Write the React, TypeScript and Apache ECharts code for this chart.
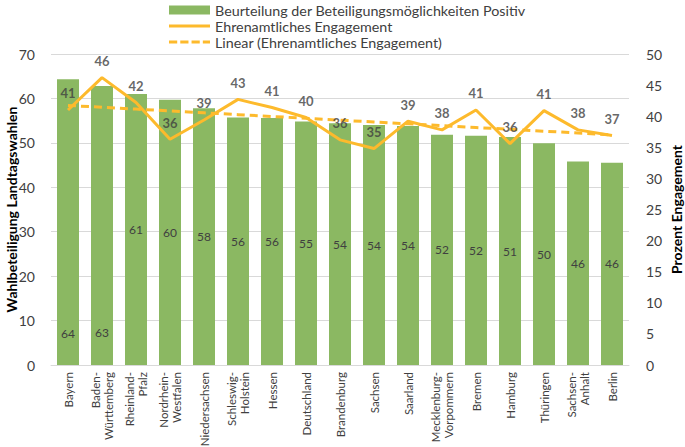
import React, { useEffect, useRef } from "react";
import * as echarts from "echarts";

const categories = [
  "Bayern",
  "Baden-\nWürttemberg",
  "Rheinland-\nPfalz",
  "Nordrhein-\nWestfalen",
  "Niedersachsen",
  "Schleswig-\nHolstein",
  "Hessen",
  "Deutschland",
  "Brandenburg",
  "Sachsen",
  "Saarland",
  "Mecklenburg-\nVorpommern",
  "Bremen",
  "Hamburg",
  "Thüringen",
  "Sachsen-\nAnhalt",
  "Berlin",
];

const beteiligung = [64.3, 62.8, 61.0, 59.7, 57.8, 55.7, 55.6, 54.8, 54.4, 54.0, 53.8, 51.8, 51.6, 51.3, 49.9, 45.8, 45.5];
const engagement = [41.0, 46.2, 42.2, 36.3, 39.4, 42.7, 41.4, 39.8, 36.2, 34.8, 39.2, 37.8, 41.0, 35.6, 40.9, 37.8, 36.9];

const leftTicks = { min: 0, max: 70, interval: 10 };
const rightTicks = { min: 0, max: 50, interval: 5 };

const FONT = "Lato";
const GREEN = "#8BB862";
const GOLD = "#FDBA2C";

function linearTrend(vals: number[]): number[] {
  const n = vals.length;
  let sx = 0, sy = 0, sxx = 0, sxy = 0;
  vals.forEach((y, i) => {
    const x = i + 1;
    sx += x; sy += y; sxx += x * x; sxy += x * y;
  });
  const b = (n * sxy - sx * sy) / (n * sxx - sx * sx);
  const a = (sy - b * sx) / n;
  return vals.map((_, i) => +(a + b * (i + 1)).toFixed(3));
}

export default function App() {
  const ref = useRef<HTMLDivElement>(null);
  useEffect(() => {
    if (!ref.current) return;
    const chart = echarts.init(ref.current, null, { renderer: "svg" });
    const trend = linearTrend(engagement);
    const barData = beteiligung.map((v, i) => {
      if (i === 0) return { value: v, label: { offset: [0, 111] } };
      if (i === 1) return { value: v, label: { offset: [0, 107] } };
      return v;
    });
    chart.setOption({
      animation: false,
      textStyle: { fontFamily: FONT },
      legend: {
        orient: "vertical",
        left: 164,
        top: -2,
        itemWidth: 41,
        itemHeight: 9,
        itemGap: 2,
        textStyle: { fontFamily: FONT, fontSize: 14.3, color: "#404040" },
        data: [
          { name: "Beurteilung der Beteiligungsmöglichkeiten Positiv", icon: "rect", itemStyle: { color: GREEN } },
          { name: "Ehrenamtliches Engagement", icon: "path://M0,0h40v3h-40z", itemStyle: { color: GOLD } },
          {
            name: "Linear (Ehrenamtliches Engagement)",
            icon: "path://M0,0h8v3h-8zM11,0h8v3h-8zM22,0h8v3h-8zM33,0h7v3h-7z",
            itemStyle: { color: GOLD },
          },
        ],
      },
      grid: { left: 51, right: 56, top: 54, bottom: 82, outerBoundsMode: "none", containLabel: false },
      xAxis: {
        type: "category",
        data: categories,
        axisTick: { show: false },
        axisLine: { show: true, lineStyle: { color: "#D9D9D9" } },
        axisLabel: {
          interval: 0,
          rotate: 90,
          fontFamily: FONT,
          fontSize: 11.5,
          lineHeight: 13,
          color: "#404040",
          margin: 7,
        },
      },
      yAxis: [
        {
          type: "value",
          ...leftTicks,
          name: "Wahlbeteiligung Landtagswahlen",
          nameLocation: "middle",
          nameGap: 33,
          nameMoveOverlap: false,
          nameTextStyle: { fontFamily: FONT, fontSize: 14, fontWeight: "bold", color: "#000" },
          axisLabel: { fontFamily: FONT, fontSize: 14, color: "#404040", margin: 16 },
          splitLine: { lineStyle: { color: "#D9D9D9" } },
          axisLine: { show: false },
          axisTick: { show: false },
        },
        {
          type: "value",
          ...rightTicks,
          position: "right",
          name: "Prozent Engagement",
          nameLocation: "middle",
          nameGap: 40,
          nameRotate: 90,
          nameMoveOverlap: false,
          nameTextStyle: { fontFamily: FONT, fontSize: 14, fontWeight: "bold", color: "#000" },
          axisLabel: { fontFamily: FONT, fontSize: 14, color: "#404040", margin: 17 },
          splitLine: { show: false },
          axisLine: { show: false },
          axisTick: { show: false },
        },
      ],
      series: [
        {
          name: "Beurteilung der Beteiligungsmöglichkeiten Positiv",
          type: "bar",
          yAxisIndex: 0,
          data: barData,
          barWidth: 22,
          itemStyle: { color: GREEN },
          z: 1,
          label: {
            show: true,
            position: "inside",
            fontFamily: FONT,
            fontSize: 12,
            color: "#404040",
            formatter: (p: any) => String(Math.round(p.value)),
          },
        },
        {
          name: "Linear (Ehrenamtliches Engagement)",
          type: "line",
          yAxisIndex: 1,
          data: trend,
          symbol: "none",
          lineStyle: { color: GOLD, width: 3, type: [8, 5] },
          itemStyle: { color: GOLD },
          z: 2,
        },
        {
          name: "Ehrenamtliches Engagement",
          type: "line",
          yAxisIndex: 1,
          data: engagement,
          symbol: "none",
          lineStyle: { color: GOLD, width: 3 },
          itemStyle: { color: GOLD },
          z: 3,
        },
        {
          name: "engagementLabels",
          type: "scatter",
          yAxisIndex: 1,
          data: engagement,
          symbolSize: 0,
          itemStyle: { color: "transparent" },
          z: 4,
          silent: true,
          label: {
            show: true,
            position: "top",
            distance: 10,
            fontFamily: FONT,
            fontSize: 13,
            fontWeight: "bold",
            color: "#404040",
            formatter: (p: any) => String(Math.round(p.value)),
          },
        },
      ],
    });
    return () => chart.dispose();
  }, []);
  return <div ref={ref} style={{ width: 685, height: 447, position: "absolute", left: 0, top: 0 }} />;
}
